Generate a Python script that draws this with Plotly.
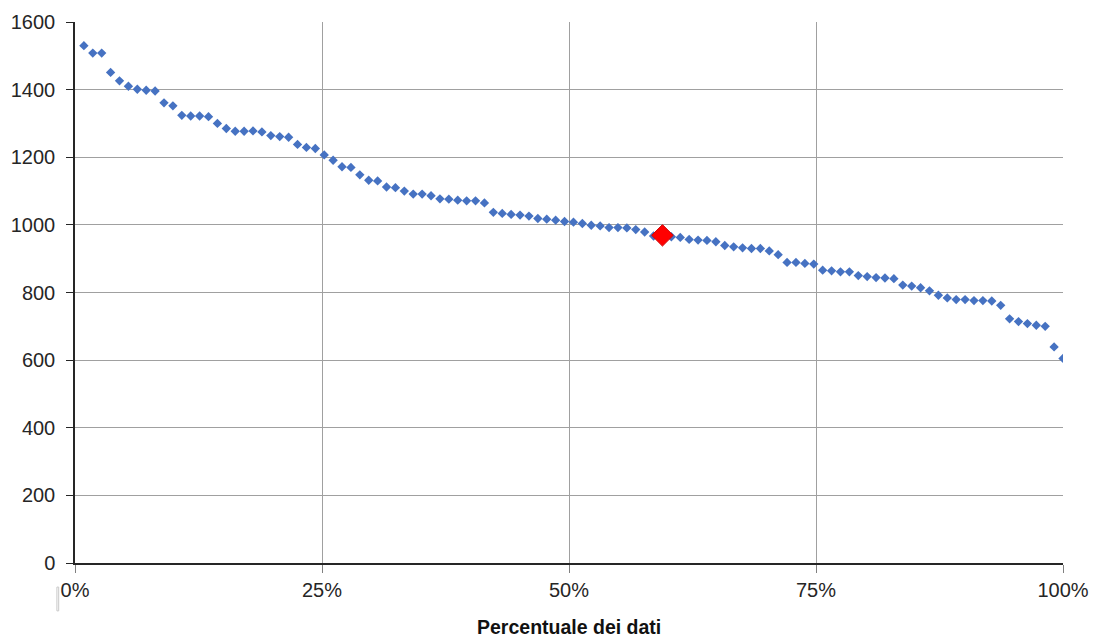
import plotly.graph_objects as go

# Values sorted in descending order (one point per data item)
values = [
    1530, 1508, 1508, 1451, 1426, 1410, 1401, 1398, 1396, 1361,
    1352, 1324, 1322, 1322, 1320, 1300, 1285, 1277, 1277, 1278,
    1275, 1264, 1261, 1259, 1238, 1229, 1226, 1207, 1191, 1172,
    1170, 1148, 1132, 1130, 1112, 1110, 1100, 1091, 1091, 1086,
    1077, 1076, 1073, 1071, 1071, 1065, 1037, 1034, 1031, 1029,
    1026, 1019, 1017, 1014, 1010, 1008, 1004, 999, 997, 992,
    992, 991, 986, 979, 967, 969, 965, 963, 957, 955,
    954, 950, 939, 935, 932, 930, 930, 923, 912, 889,
    889, 886, 884, 866, 864, 861, 861, 850, 847, 844,
    843, 841, 822, 819, 814, 805, 792, 784, 779, 779,
    776, 776, 775, 762, 722, 714, 708, 703, 700, 639,
    605,
]
# rank percentage of each item
n = len(values)
pct = [100.0 * (i + 1) / n for i in range(n)]

highlight_rank = 66  # 1-based rank of the highlighted item
highlight_x = [pct[highlight_rank - 1]]
highlight_y = [values[highlight_rank - 1]]

x_ticks = [0, 25, 50, 75, 100]
x_labels = ["0%", "25%", "50%", "75%", "100%"]
y_ticks = [0, 200, 400, 600, 800, 1000, 1200, 1400, 1600]

fig = go.Figure()
fig.add_trace(go.Scatter(
    x=pct, y=values, mode="markers",
    marker=dict(symbol="diamond", size=7.2, color="#4672C2"),
    showlegend=False, hoverinfo="x+y",
))
fig.add_trace(go.Scatter(
    x=highlight_x, y=highlight_y, mode="markers",
    marker=dict(symbol="diamond", size=16.5, color="#FF0000",
                line=dict(color="#D00000", width=1)),
    showlegend=False,
))

tick_font = dict(family="Liberation Sans, Arial, sans-serif", size=20, color="#262626")

fig.update_layout(
    width=1093, height=639,
    margin=dict(l=75, r=30, t=22, b=76, autoexpand=False),
    paper_bgcolor="white", plot_bgcolor="white",
    xaxis=dict(
        range=[0, 100], tickvals=x_ticks, ticktext=x_labels,
        showgrid=True, gridcolor="#A0A0A0", gridwidth=1.3,
        showline=True, linecolor="#262626", linewidth=1.5,
        ticks="outside", ticklen=8, tickcolor="#808080", tickwidth=1.3,
        tickfont=tick_font, zeroline=False, fixedrange=True,
        automargin=False,
    ),
    yaxis=dict(
        range=[0, 1600], tickvals=y_ticks,
        showgrid=True, gridcolor="#A0A0A0", gridwidth=1.3,
        showline=True, linecolor="#262626", linewidth=1.5,
        ticks="outside", ticklen=7, tickcolor="#262626", tickwidth=1.3,
        ticklabelstandoff=7,
        tickfont=tick_font, zeroline=False, fixedrange=True,
        automargin=False,
    ),
    annotations=[dict(
        text="<b>Percentuale dei dati</b>", xref="paper", yref="paper",
        x=0.5, y=-0.119, xanchor="center", yanchor="middle", showarrow=False,
        font=dict(family="Liberation Sans, Arial, sans-serif", size=19.5, color="#111111"),
    )],
    shapes=[dict(
        type="rect", xref="paper", yref="paper",
        x0=-0.0183, x1=-0.0165, y0=-0.0445, y1=-0.0885,
        line=dict(color="#C8C8C8", width=1), fillcolor="white",
    )],
)

# remove the default page margin so the figure sits at the window's top-left corner
fig.write_html(
    "out.html",
    config={"displayModeBar": False},
    post_script="document.body.style.margin='0';document.body.style.overflow='hidden';",
)
